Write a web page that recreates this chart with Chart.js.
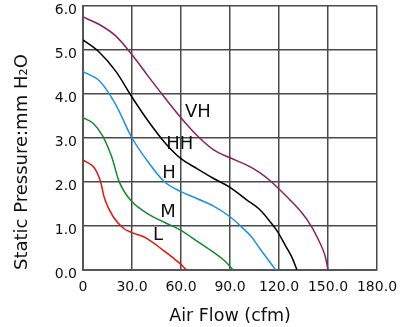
<!DOCTYPE html>
<html>
<head>
<meta charset="utf-8">
<title>Fan P-Q curves</title>
<script src="https://cdn.jsdelivr.net/npm/chart.js@4.4.1/dist/chart.umd.min.js"></script>
<style>
    html, body { margin: 0; padding: 0; background: #fff; }
    #wrap { width: 400px; height: 327px; }
</style>
</head>
<body>
<div id="wrap"><canvas id="pq" width="400" height="327"></canvas></div>
<script>
"use strict";

// speed steps, top to bottom
const speeds = ['VH', 'HH', 'H', 'M', 'L'];
const colors = ['#8c1f66', '#000000', '#1e90e6', '#0f8a2c', '#e5140c'];

// air flow (cfm) / static pressure (mmH2O) per speed
const flowVH = [0, 10, 20, 30, 40, 50, 60, 70, 80, 90, 100, 108, 115.5, 126.5, 134, 140, 145, 148, 150];
const presVH = [5.75, 5.58, 5.32, 4.89, 4.4, 3.92, 3.46, 3.05, 2.73, 2.55, 2.39, 2.22, 2.0, 1.6, 1.3, 0.98, 0.62, 0.35, 0];

const flowHH = [0, 10, 20, 30, 40, 50, 60, 70, 80, 90, 100, 108, 114.5, 119, 124, 128, 131];
const presHH = [5.23, 4.95, 4.52, 3.93, 3.38, 2.9, 2.53, 2.3, 2.08, 1.88, 1.6, 1.38, 1.1, 0.88, 0.55, 0.28, 0];

const flowH = [0, 10, 20, 30, 40, 50, 60, 70, 80, 90, 97, 103, 108, 113, 118];
const presH = [4.51, 4.3, 3.76, 3.0, 2.45, 2.0, 1.78, 1.62, 1.45, 1.21, 0.98, 0.76, 0.5, 0.25, 0];

const flowM = [0, 6, 12, 17.5, 22.6, 30, 40, 50, 60, 70, 80, 87, 92];
const presM = [3.46, 3.34, 3.05, 2.58, 1.97, 1.55, 1.27, 1.08, 0.9, 0.65, 0.4, 0.2, 0];

const flowL = [0, 6.3, 10.4, 13.5, 18.5, 24.7, 30, 39, 49, 55, 59.3, 63.4];
const presL = [2.5, 2.35, 2.05, 1.59, 1.21, 0.95, 0.85, 0.72, 0.45, 0.28, 0.15, 0];

// where each speed name sits, in data units
const labelFlow = [70.3, 59.3, 52.6, 52, 45.9];
const labelPres = [3.58, 2.86, 2.19, 1.32, 0.79];

const xTickLabels = ['0', '30.0', '60.0', '90.0', '120.0', '150.0', '180.0'];
const yTickLabels = ['0.0', '1.0', '2.0', '3.0', '4.0', '5.0', '6.0'];

const flows = [flowVH, flowHH, flowH, flowM, flowL];
const pressures = [presVH, presHH, presH, presM, presL];

const FONT = 'DejaVu Sans, sans-serif';
const GRID = '#4a4a4a';

const datasets = speeds.map((name, i) => ({
    label: name,
    data: flows[i].map((x, k) => ({x, y: pressures[i][k]})),
    borderColor: colors[i],
    borderWidth: 1.5,
    pointRadius: 0,
    fill: false,
    tension: 0.35
}));

const curveNames = {
    id: 'curveNames',
    afterDatasetsDraw(chart) {
        const {ctx, scales: {x, y}} = chart;
        ctx.save();
        ctx.font = '18px ' + FONT;
        ctx.fillStyle = '#111';
        ctx.textAlign = 'center';
        ctx.textBaseline = 'middle';
        speeds.forEach((name, i) => {
            ctx.fillText(name, x.getPixelForValue(labelFlow[i]), y.getPixelForValue(labelPres[i]));
        });
        ctx.restore();
    }
};

new Chart(document.getElementById('pq'), {
    type: 'line',
    data: {datasets},
    plugins: [curveNames],
    options: {
        responsive: false,
        animation: false,
        events: [],
        layout: {padding: {left: 0, top: 6, right: 23, bottom: 0}},
        plugins: {legend: {display: false}, tooltip: {enabled: false}},
        scales: {
            x: {
                type: 'linear',
                min: 0,
                max: 180,
                afterFit(scale) {
                    scale.height = 57;
                    scale.paddingLeft = 0;
                    scale.paddingRight = 0;
                },
                ticks: {
                    stepSize: 30,
                    padding: 9,
                    color: '#111',
                    font: {family: FONT, size: 14},
                    callback: (v) => xTickLabels[Math.round(v / 30)]
                },
                grid: {color: GRID, lineWidth: 1.5, drawTicks: false},
                border: {color: '#555', width: 2},
                title: {
                    display: true,
                    text: 'Air Flow (cfm)',
                    color: '#111',
                    font: {family: FONT, size: 17.5},
                    padding: {top: 0, bottom: 0}
                }
            },
            y: {
                min: 0,
                max: 6,
                afterFit(scale) {
                    scale.width = 83;
                    // keep the 6.0 label from pushing the plot down
                    scale.paddingTop = 0;
                    scale.paddingBottom = 0;
                },
                ticks: {
                    stepSize: 1,
                    padding: 6,
                    labelOffset: 4,
                    color: '#111',
                    font: {family: FONT, size: 14},
                    callback: (v) => yTickLabels[Math.round(v)]
                },
                grid: {color: GRID, lineWidth: 1.5, drawTicks: false},
                border: {color: '#555', width: 2},
                title: {
                    display: true,
                    text: 'Static Pressure:mm H\u2082O',
                    align: 'start',
                    color: '#111',
                    font: {family: FONT, size: 18},
                    padding: {top: 12, bottom: 0}
                }
            }
        }
    }
});
</script>
</body>
</html>
